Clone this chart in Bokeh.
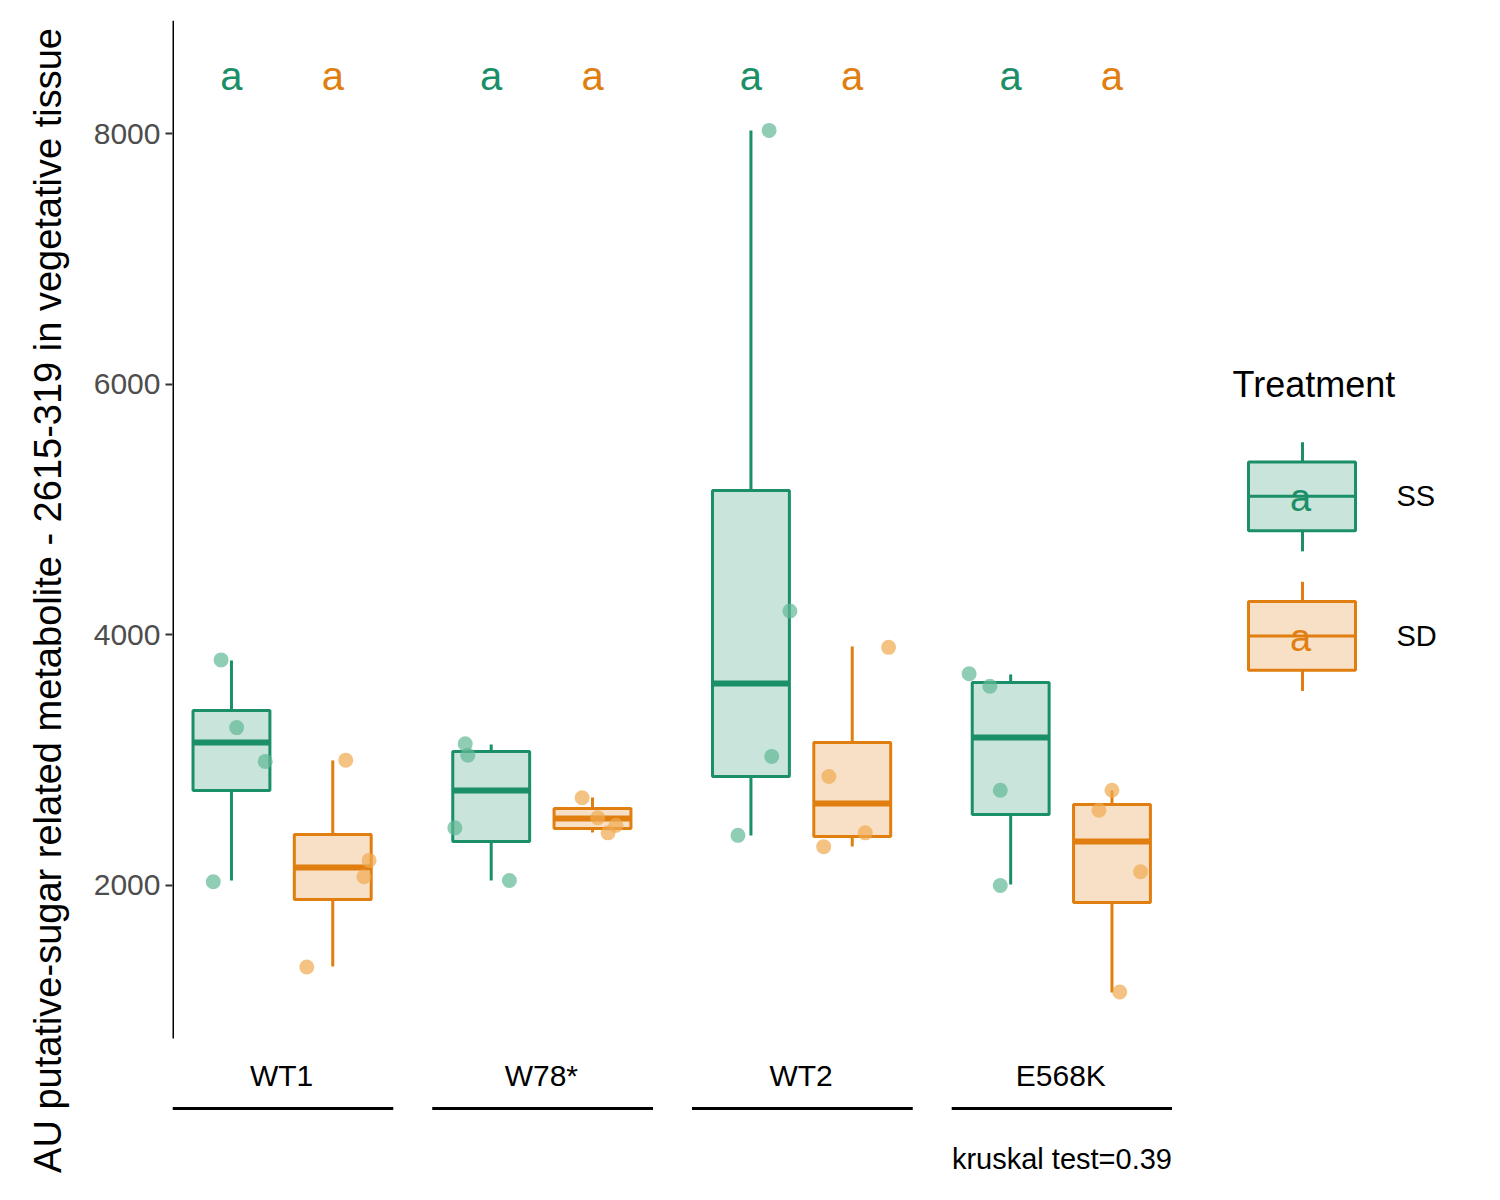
from bokeh.plotting import figure
from bokeh.models import Range1d, FixedTicker
from bokeh.layouts import row
from bokeh.core.properties import value
from bokeh.embed import file_html
from bokeh.resources import INLINE

groups = ["WT1", "W78*", "WT2", "E568K"]
treatments = ["SS", "SD"]
colors = {"SS": "#1b8f67", "SD": "#e07f10"}
pt_colors = {"SS": "#5fb896", "SD": "#f0a94f"}
# box stats: low whisker, q1, median, q3, high whisker
stats = {
    "SS": [(2040, 2758, 3141, 3397, 3796), (2040, 2351, 2758, 3069, 3125),
           (2399, 2870, 3612, 5152, 8025), (2008, 2567, 3181, 3620, 3684)],
    "SD": [(1354, 1888, 2144, 2407, 2998), (2423, 2455, 2535, 2615, 2702),
           (2311, 2391, 2654, 3141, 3907), (1146, 1864, 2351, 2646, 2758)],
}
points = {
    "SS": [[3800, 3260, 2990, 2030], [3130, 3040, 2460, 2040],
           [8025, 4190, 3030, 2400], [3690, 3590, 2760, 2000]],
    "SD": [[3000, 2200, 2070, 1350], [2700, 2420, 2480, 2540],
           [3900, 2870, 2420, 2310], [2760, 2600, 2110, 1150]],
}
jitter = {
    "SS": [[-0.04, 0.02, 0.13, -0.07], [-0.1, -0.09, -0.14, 0.07],
           [0.07, 0.15, 0.08, -0.05], [-0.16, -0.08, -0.04, -0.04]],
    "SD": [[0.05, 0.14, 0.12, -0.1], [-0.04, 0.06, 0.09, 0.02],
           [0.14, -0.09, 0.05, -0.11], [0.0, -0.05, 0.11, 0.03]],
}
letters = {"SS": ["a"] * 4, "SD": ["a"] * 4}
kruskal = "kruskal test=0.39"
yticks = [2000, 4000, 6000, 8000]
offset = {"SS": -0.193, "SD": 0.197}
bw = 0.296

p = figure(width=1172, height=1180, output_backend="svg", toolbar_location=None,
           x_range=Range1d(0.58, 4.43), y_range=Range1d(-354, 8902),
           min_border_left=172, min_border_right=0, min_border_top=20, min_border_bottom=0)
p.outline_line_color = None
p.grid.visible = False
p.xaxis.visible = False
p.yaxis.ticker = FixedTicker(ticks=yticks)
p.yaxis.axis_line_color = None
p.yaxis.major_tick_line_color = "#333333"
p.yaxis.major_tick_line_width = 2
p.yaxis.major_tick_in = 0
p.yaxis.major_tick_out = 7
p.yaxis.minor_tick_line_color = None
p.yaxis.major_label_text_font_size = "30px"
p.yaxis.major_label_text_color = "#4d4d4d"
p.yaxis.major_label_text_font = "Liberation Sans"
p.yaxis.axis_label = "AU putative-sugar related metabolite - 2615-319 in vegetative tissue"
p.yaxis.axis_label_text_font_size = "38px"
p.yaxis.axis_label_text_color = "black"
p.yaxis.axis_label_text_font = "Liberation Sans"
p.yaxis.axis_label_text_font_style = "normal"
p.yaxis.axis_label_standoff = 22
p.segment(x0=[0.58], y0=[779], x1=[0.58], y1=[8902], line_color="black", line_width=3)

for t in treatments:
    c = colors[t]
    xs = [i + 1 + offset[t] for i in range(4)]
    lo = [s[0] for s in stats[t]]; q1 = [s[1] for s in stats[t]]
    md = [s[2] for s in stats[t]]; q3 = [s[3] for s in stats[t]]; hi = [s[4] for s in stats[t]]
    p.segment(x0=xs, y0=lo, x1=xs, y1=q1, line_color=c, line_width=3)
    p.segment(x0=xs, y0=q3, x1=xs, y1=hi, line_color=c, line_width=3)
    p.vbar(x=xs, width=bw, bottom=q1, top=q3, fill_color=c, fill_alpha=0.24,
           line_color=c, line_width=3)
    p.segment(x0=[x - bw / 2 for x in xs], y0=md, x1=[x + bw / 2 for x in xs], y1=md,
              line_color=c, line_width=6)
    px, py = [], []
    for i in range(4):
        for v, j in zip(points[t][i], jitter[t][i]):
            px.append(xs[i] + j); py.append(v)
    p.scatter(px, py, size=15, fill_color=pt_colors[t], fill_alpha=0.7, line_color=None)
    p.text(x=xs, y=[8460] * 4, text=letters[t], text_color=c, text_align="center",
           text_baseline="middle", text_font_size="40px", text_font=value("Liberation Sans"))

gx = [i + 1 for i in range(4)]
p.text(x=gx, y=[484] * 4, text=groups, text_align="center", text_baseline="middle",
       text_font_size="30px", text_font=value("Liberation Sans"), text_color="black")
p.segment(x0=[g - 0.42 for g in gx], y0=[220] * 4, x1=[g + 0.43 for g in gx], y1=[220] * 4,
          line_color="black", line_width=3)
p.text(x=[4.428], y=[-179], text=[kruskal], text_align="right", text_baseline="middle",
       text_font_size="29px", text_font=value("Liberation Sans"), text_color="black")

# legend figure (pixel-like coordinates)
lg = figure(width=310, height=1180, output_backend="svg", toolbar_location=None,
            x_range=Range1d(0, 310), y_range=Range1d(1180, 0),
            min_border=0, min_border_left=0, min_border_right=0, min_border_top=0, min_border_bottom=0)
lg.axis.visible = False
lg.grid.visible = False
lg.outline_line_color = None
lg.text(x=[60], y=[370], text=["Treatment"], text_baseline="middle",
        text_font_size="36px", text_font=value("Liberation Sans"))
for t, yc in zip(treatments, [484, 626]):
    c = colors[t]
    lg.segment(x0=[130, 130], y0=[yc - 55, yc + 35], x1=[130, 130], y1=[yc - 35, yc + 56],
               line_color=c, line_width=3)
    lg.quad(left=[76], right=[183], top=[yc - 35], bottom=[yc + 35], fill_color=c,
            fill_alpha=0.24, line_color=c, line_width=3)
    lg.segment(x0=[76], y0=[yc], x1=[183], y1=[yc], line_color=c, line_width=3)
    lg.text(x=[128], y=[yc + 2], text=["a"], text_color=c, text_align="center",
            text_baseline="middle", text_font_size="38px", text_font=value("Liberation Sans"))
    lg.text(x=[224], y=[yc], text=[t], text_baseline="middle", text_font_size="29px",
            text_font=value("Liberation Sans"))

lay = row(p, lg, spacing=0)
open("out.html", "w").write(file_html(lay, INLINE))
